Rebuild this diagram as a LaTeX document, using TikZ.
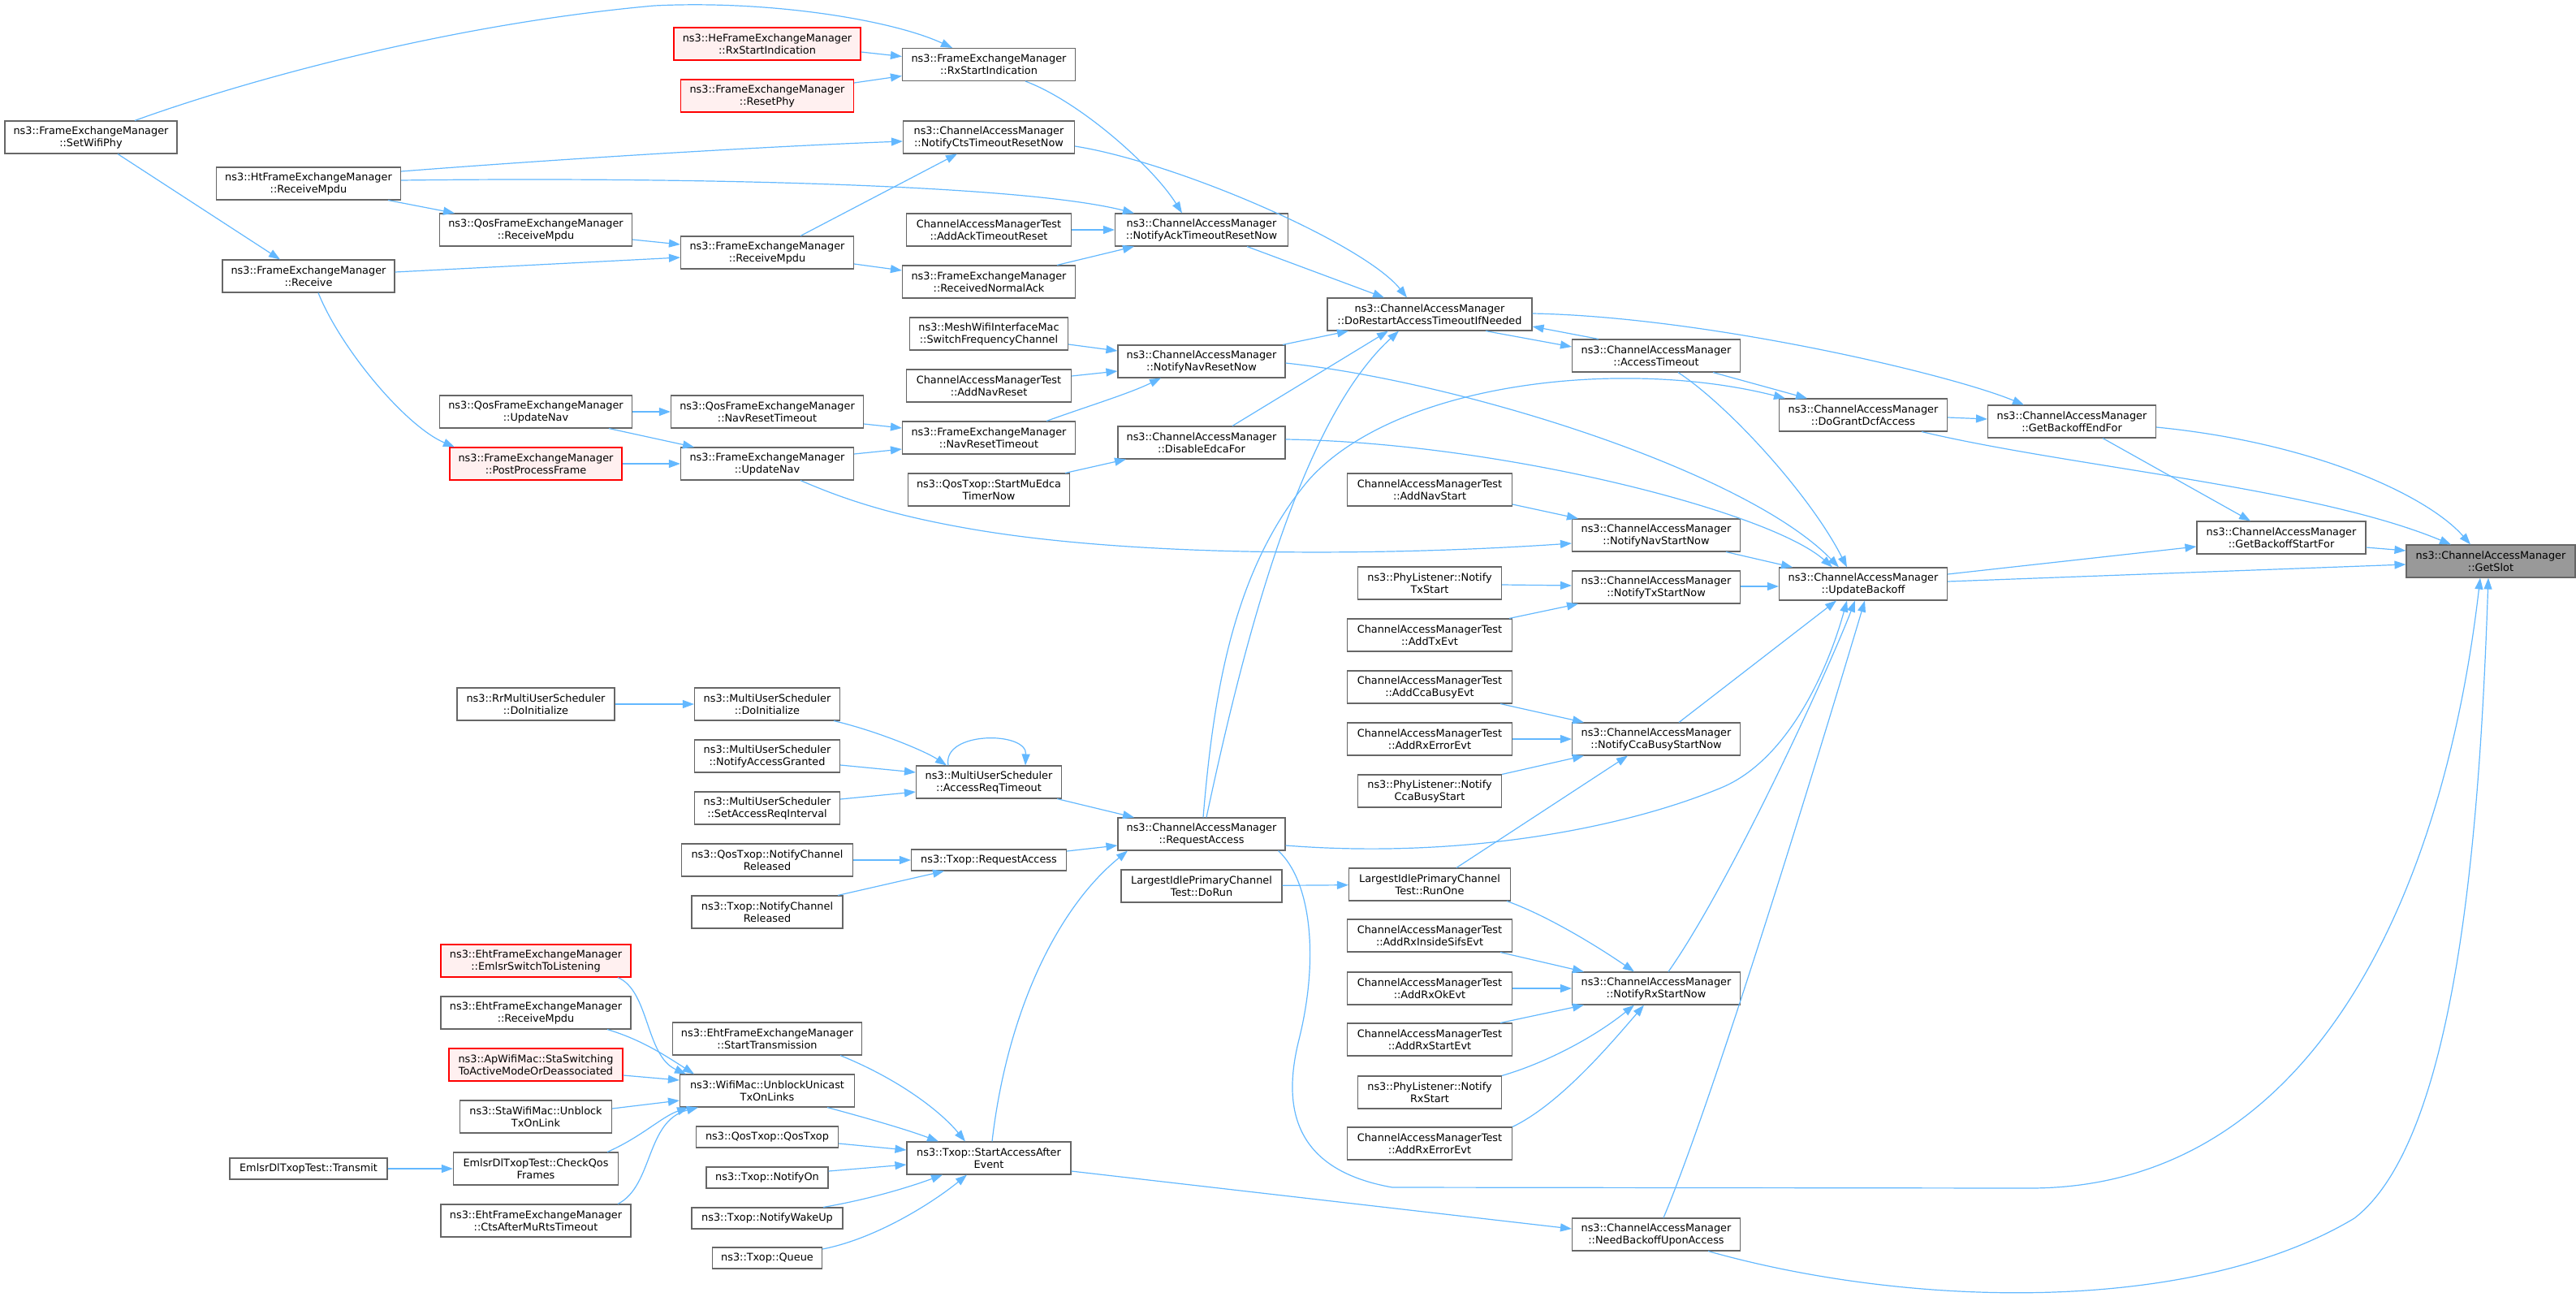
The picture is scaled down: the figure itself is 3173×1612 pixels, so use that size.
\documentclass[tikz,border=0pt]{standalone}
\usepackage{fontspec}
\setmainfont{DejaVu Sans}
\usetikzlibrary{arrows.meta,calc}
\definecolor{edgec}{HTML}{63B8FF}
\definecolor{nodeb}{HTML}{666666}
\definecolor{redb}{HTML}{FF0000}
\definecolor{redf}{HTML}{FFF0F0}
\definecolor{rootf}{HTML}{999999}
\tikzset{
  nbox/.style={draw=nodeb, fill=white, line width=1.1pt, rectangle, align=center,
    minimum height=40, inner xsep=4, inner ysep=2, font=\fontsize{12.85}{15}\selectfont},
  sbox/.style={nbox, minimum height=26},
  rbox/.style={nbox, draw=redb, fill=redf},
  cedge/.style={draw=edgec, line width=1.2pt, -{Triangle[length=14pt,width=10pt]}}
}
\begin{document}
\begin{tikzpicture}[x=1pt,y=-1pt]
\useasboundingbox (0,0) rectangle (3173,1612);
% column 12
\node[nbox,fill=rootf,minimum width=208] (root) at (3068,691) {ns3::ChannelAccessManager\\::GetSlot};
% column 11
\node[nbox,minimum width=208] (gbsf) at (2810,662) {ns3::ChannelAccessManager\\::GetBackoffStartFor};
% column 10
\node[nbox,minimum width=207] (gbef) at (2552,519) {ns3::ChannelAccessManager\\::GetBackoffEndFor};
% column 9
\node[nbox,minimum width=207] (ub) at (2295,719) {ns3::ChannelAccessManager\\::UpdateBackoff};
\node[nbox,minimum width=207] (dgda) at (2295,511) {ns3::ChannelAccessManager\\::DoGrantDcfAccess};
% column 8
\node[nbox,minimum width=207] (at) at (2040,438) {ns3::ChannelAccessManager\\::AccessTimeout};
\node[nbox,minimum width=207] (nnsn) at (2040,659) {ns3::ChannelAccessManager\\::NotifyNavStartNow};
\node[nbox,minimum width=207] (ntsn) at (2040,723) {ns3::ChannelAccessManager\\::NotifyTxStartNow};
\node[nbox,minimum width=207] (ncbs) at (2040,910) {ns3::ChannelAccessManager\\::NotifyCcaBusyStartNow};
\node[nbox,minimum width=207] (nrsn) at (2040,1217) {ns3::ChannelAccessManager\\::NotifyRxStartNow};
\node[nbox,minimum width=207] (nbua) at (2040,1520) {ns3::ChannelAccessManager\\::NeedBackoffUponAccess};
% column 7
\node[nbox,minimum width=252] (drat) at (1761,387) {ns3::ChannelAccessManager\\::DoRestartAccessTimeoutIfNeeded};
\node[nbox,minimum width=203] (addnavstart) at (1761,603) {ChannelAccessManagerTest\\::AddNavStart};
\node[nbox,minimum width=177] (pltx) at (1761,718) {ns3::PhyListener::Notify\\TxStart};
\node[nbox,minimum width=203] (addtxevt) at (1761,782) {ChannelAccessManagerTest\\::AddTxEvt};
\node[nbox,minimum width=203] (addcca) at (1761,846) {ChannelAccessManagerTest\\::AddCcaBusyEvt};
\node[nbox,minimum width=203] (addrxerr1) at (1761,910) {ChannelAccessManagerTest\\::AddRxErrorEvt};
\node[nbox,minimum width=177] (plcca) at (1761,974) {ns3::PhyListener::Notify\\CcaBusyStart};
\node[nbox,minimum width=199] (runone) at (1761,1089) {LargestIdlePrimaryChannel\\Test::RunOne};
\node[nbox,minimum width=203] (addrxsifs) at (1761,1152) {ChannelAccessManagerTest\\::AddRxInsideSifsEvt};
\node[nbox,minimum width=203] (addrxok) at (1761,1217) {ChannelAccessManagerTest\\::AddRxOkEvt};
\node[nbox,minimum width=203] (addrxstart) at (1761,1280) {ChannelAccessManagerTest\\::AddRxStartEvt};
\node[nbox,minimum width=177] (plrx) at (1761,1345) {ns3::PhyListener::Notify\\RxStart};
\node[nbox,minimum width=203] (addrxerr2) at (1761,1408) {ChannelAccessManagerTest\\::AddRxErrorEvt};
% column 6
\node[nbox,minimum width=213] (ntack) at (1480,283) {ns3::ChannelAccessManager\\::NotifyAckTimeoutResetNow};
\node[nbox,minimum width=206] (nnrn) at (1480,445) {ns3::ChannelAccessManager\\::NotifyNavResetNow};
\node[nbox,minimum width=206] (def) at (1480,545) {ns3::ChannelAccessManager\\::DisableEdcaFor};
\node[nbox,minimum width=206] (ra) at (1480,1027) {ns3::ChannelAccessManager\\::RequestAccess};
\node[nbox,minimum width=198] (dorun) at (1480,1091) {LargestIdlePrimaryChannel\\Test::DoRun};
% column 5
\node[nbox,minimum width=213] (rxsi) at (1218,79.5) {ns3::FrameExchangeManager\\::RxStartIndication};
\node[nbox,minimum width=211] (ncts) at (1218,169) {ns3::ChannelAccessManager\\::NotifyCtsTimeoutResetNow};
\node[nbox,minimum width=203] (addack) at (1218,283) {ChannelAccessManagerTest\\::AddAckTimeoutReset};
\node[nbox,minimum width=213] (rna) at (1218,347) {ns3::FrameExchangeManager\\::ReceivedNormalAck};
\node[nbox,minimum width=195] (sfc) at (1218,411) {ns3::MeshWifiInterfaceMac\\::SwitchFrequencyChannel};
\node[nbox,minimum width=203] (addnavreset) at (1218,475) {ChannelAccessManagerTest\\::AddNavReset};
\node[nbox,minimum width=213] (fnrt) at (1218,539) {ns3::FrameExchangeManager\\::NavResetTimeout};
\node[nbox,minimum width=199] (muedca) at (1218,603) {ns3::QosTxop::StartMuEdca\\TimerNow};
\node[nbox,minimum width=179] (art) at (1218,963) {ns3::MultiUserScheduler\\::AccessReqTimeout};
\node[sbox,minimum width=191] (txra) at (1218,1059) {ns3::Txop::RequestAccess};
\node[nbox,minimum width=202] (saae) at (1218,1426) {ns3::Txop::StartAccessAfter\\Event};
% column 4
\node[rbox,minimum width=230] (herx) at (945,54) {ns3::HeFrameExchangeManager\\::RxStartIndication};
\node[rbox,minimum width=213] (resetphy) at (945,118) {ns3::FrameExchangeManager\\::ResetPhy};
\node[nbox,minimum width=213] (frm) at (945,311) {ns3::FrameExchangeManager\\::ReceiveMpdu};
\node[nbox,minimum width=237] (qnrt) at (945,507) {ns3::QosFrameExchangeManager\\::NavResetTimeout};
\node[nbox,minimum width=213] (fun) at (945,571) {ns3::FrameExchangeManager\\::UpdateNav};
\node[nbox,minimum width=179] (musdi) at (945,867) {ns3::MultiUserScheduler\\::DoInitialize};
\node[nbox,minimum width=179] (musnag) at (945,931) {ns3::MultiUserScheduler\\::NotifyAccessGranted};
\node[nbox,minimum width=179] (mussari) at (945,995) {ns3::MultiUserScheduler\\::SetAccessReqInterval};
\node[nbox,minimum width=211] (qtncr) at (945,1059) {ns3::QosTxop::NotifyChannel\\Released};
\node[nbox,minimum width=186] (tncr) at (945,1123) {ns3::Txop::NotifyChannel\\Released};
\node[nbox,minimum width=233] (ehtst) at (945,1279) {ns3::EhtFrameExchangeManager\\::StartTransmission};
\node[nbox,minimum width=215] (wmu) at (945,1343) {ns3::WifiMac::UnblockUnicast\\TxOnLinks};
\node[sbox,minimum width=175] (qtqt) at (945,1400) {ns3::QosTxop::QosTxop};
\node[sbox,minimum width=150] (tno) at (945,1450) {ns3::Txop::NotifyOn};
\node[sbox,minimum width=186] (tnw) at (945,1500) {ns3::Txop::NotifyWakeUp};
\node[sbox,minimum width=135] (tq) at (945,1549) {ns3::Txop::Queue};
% column 3
\node[nbox,minimum width=237] (qrm) at (660,283) {ns3::QosFrameExchangeManager\\::ReceiveMpdu};
\node[nbox,minimum width=237] (qun) at (660,507) {ns3::QosFrameExchangeManager\\::UpdateNav};
\node[rbox,minimum width=212] (ppf) at (660,571) {ns3::FrameExchangeManager\\::PostProcessFrame};
\node[nbox,minimum width=194] (rrdi) at (660,867) {ns3::RrMultiUserScheduler\\::DoInitialize};
\node[rbox,minimum width=234] (emlsr) at (660,1183) {ns3::EhtFrameExchangeManager\\::EmlsrSwitchToListening};
\node[nbox,minimum width=234] (ehtrm) at (660,1247) {ns3::EhtFrameExchangeManager\\::ReceiveMpdu};
\node[rbox,minimum width=214] (apsw) at (660,1311) {ns3::ApWifiMac::StaSwitching\\ToActiveModeOrDeassociated};
\node[nbox,minimum width=187] (staub) at (660,1375) {ns3::StaWifiMac::Unblock\\TxOnLink};
\node[nbox,minimum width=203] (chkq) at (660,1439) {EmlsrDlTxopTest::CheckQos\\Frames};
\node[nbox,minimum width=234] (ctsmu) at (660,1503) {ns3::EhtFrameExchangeManager\\::CtsAfterMuRtsTimeout};
% column 2
\node[nbox,minimum width=227] (htrm) at (380,226) {ns3::HtFrameExchangeManager\\::ReceiveMpdu};
\node[nbox,minimum width=212] (recv) at (380,340) {ns3::FrameExchangeManager\\::Receive};
\node[sbox,minimum width=194] (transmit) at (380,1439) {EmlsrDlTxopTest::Transmit};
% column 1
\node[nbox,minimum width=212] (swp) at (112,169) {ns3::FrameExchangeManager\\::SetWifiPhy};

% ---------- edges ----------
\draw[cedge] ($(swp.north)+(54,0)$) .. controls (300,100) and (550,30) .. (806,7) .. controls (950,0) and (1100,25) .. ($(rxsi.north)+(-45,0)$);
\draw[cedge] ($(swp.south)+(33,0)$) -- ($(recv.north)+(-35,0)$);
\draw[cedge] ($(herx.east)+(0,10)$) -- ($(rxsi.west)+(0,-10)$);
\draw[cedge] ($(resetphy.east)+(0,-16)$) -- ($(rxsi.west)+(0,14)$);
\draw[cedge] ($(rxsi.south)+(45,0)$) .. controls (1330,125) and (1420,205) .. ($(ntack.north)+(-24,0)$);
\draw[cedge] ($(htrm.east)+(0,-15)$) .. controls (700,195) and (950,180) .. ($(ncts.west)+(0,5)$);
\draw[cedge] ($(htrm.east)+(0,-4)$) .. controls (800,218) and (1250,225) .. ($(ntack.north)+(-83,0)$);
\draw[cedge] ($(htrm.south)+(98,0)$) -- ($(qrm.north)+(-100,0)$);
\draw[cedge] ($(qrm.east)+(0,12)$) -- ($(frm.west)+(0,-10)$);
\draw[cedge] ($(recv.east)+(0,-5)$) -- ($(frm.west)+(0,6)$);
\draw[cedge] ($(recv.south)+(12,0)$) .. controls (420,430) and (500,525) .. ($(ppf.north)+(-100,0)$);
\draw[cedge] ($(frm.north)+(41,0)$) -- ($(ncts.south)+(-39,0)$);
\draw[cedge] ($(frm.east)+(0,14)$) -- ($(rna.west)+(0,-14)$);
\draw[cedge] (addack) -- (ntack);
\draw[cedge] ($(rna.north)+(84,0)$) -- ($(ntack.south)+(-83,0)$);
\draw[cedge] ($(ncts.east)+(0,11)$) .. controls (1450,200) and (1680,300) .. ($(drat.north)+(-28,0)$);
\draw[cedge] ($(ntack.south)+(56,0)$) -- ($(drat.north)+(-56,0)$);
\draw[cedge] ($(sfc.east)+(0,13)$) -- ($(nnrn.west)+(0,-13)$);
\draw[cedge] ($(addnavreset.east)+(0,-12)$) -- ($(nnrn.west)+(0,12)$);
\draw[cedge] ($(fnrt.north)+(71,0)$) .. controls (1340,500) and (1390,485) .. ($(nnrn.south)+(-50,0)$);
\draw[cedge] ($(qnrt.east)+(0,15)$) -- ($(fnrt.west)+(0,-12)$);
\draw[cedge] ($(fun.east)+(0,-12)$) -- ($(fnrt.west)+(0,14)$);
\draw[cedge] (qun) -- (qnrt);
\draw[cedge] ($(qun.south)+(90,0)$) -- ($(fun.north)+(-90,0)$);
\draw[cedge] (ppf) -- (fun);
\draw[cedge] ($(fun.south)+(41,0)$) .. controls (1040,615) and (1100,635) .. (1200,652) .. controls (1400,686) and (1700,685) .. ($(nnsn.west)+(0,10)$);
\draw[cedge] ($(muedca.north)+(94,0)$) -- ($(def.south)+(-93,0)$);
\draw[cedge] ($(nnrn.north)+(100,0)$) -- ($(drat.south)+(-100,0)$);
\draw[cedge] ($(nnrn.east)+(0,2)$) .. controls (1800,470) and (2150,580) .. ($(ub.north)+(-30,0)$);
\draw[cedge] ($(def.north)+(38,0)$) -- ($(drat.south)+(-51,0)$);
\draw[cedge] ($(def.east)+(0,-4)$) .. controls (1850,545) and (2180,630) .. ($(ub.north)+(-38,0)$);
\draw[cedge] ($(at.north)+(-71,0)$) -- ($(drat.east)+(0,15)$);
\draw[cedge] ($(drat.south)+(69,0)$) -- ($(at.west)+(0,-11)$);
\draw[cedge] ($(drat.east)+(0,-1)$) .. controls (2100,390) and (2400,460) .. ($(gbef.north)+(-59,0)$);
\draw[cedge] ($(at.south)+(70,0)$) -- ($(dgda.north)+(-69,0)$);
\draw[cedge] ($(at.south)+(27,0)$) .. controls (2130,500) and (2230,610) .. ($(ub.north)+(-20,0)$);
\draw[cedge] ($(dgda.east)+(0,3)$) -- ($(gbef.west)+(0,-3)$);
\draw[cedge] ($(dgda.south)+(72,0)$) .. controls (2550,575) and (2850,600) .. ($(root.north)+(-49,0)$);
\draw[cedge] ($(gbef.east)+(0,7)$) .. controls (2850,545) and (2990,610) .. ($(root.north)+(-25,0)$);
\draw[cedge] ($(gbef.south)+(38,0)$) -- ($(gbsf.north)+(-38,0)$);
\draw[cedge] ($(gbsf.east)+(0,12)$) -- ($(root.west)+(0,-13)$);
\draw[cedge] ($(ub.east)+(0,-12)$) -- ($(gbsf.west)+(0,11)$);
\draw[cedge] ($(ub.east)+(0,-3)$) -- ($(root.west)+(0,4)$);
\draw[cedge] ($(addnavstart.east)+(0,18)$) -- ($(nnsn.north west)+(8,0)$);
\draw[cedge] ($(nnsn.south)+(86,0)$) -- ($(ub.north)+(-87,0)$);
\draw[cedge] ($(pltx.east)+(0,2)$) -- ($(ntsn.west)+(0,-2)$);
\draw[cedge] ($(addtxevt.north)+(98,0)$) -- ($(ntsn.south)+(-96,0)$);
\draw[cedge] ($(ntsn.east)+(0,-1)$) -- ($(ub.west)+(0,3)$);
\draw[cedge] ($(addcca.south)+(87,0)$) -- ($(ncbs.north)+(-89,0)$);
\draw[cedge] (addrxerr1) -- (ncbs);
\draw[cedge] ($(plcca.north)+(89,0)$) -- ($(ncbs.south)+(-89,0)$);
\draw[cedge] ($(runone.north)+(33,0)$) -- ($(ncbs.south)+(-35,0)$);
\draw[cedge] ($(ncbs.north)+(28,0)$) -- ($(ub.south)+(-33,0)$);
\draw[cedge] ($(runone.south)+(95,0)$) .. controls (1900,1125) and (1960,1160) .. ($(nrsn.north)+(-27,0)$);
\draw[cedge] ($(addrxsifs.south)+(87,0)$) -- ($(nrsn.north)+(-89,0)$);
\draw[cedge] (addrxok) -- (nrsn);
\draw[cedge] ($(addrxstart.north)+(87,0)$) -- ($(nrsn.south)+(-89,0)$);
\draw[cedge] ($(plrx.north)+(89,0)$) .. controls (1900,1310) and (1960,1280) .. ($(nrsn.south)+(-27,0)$);
\draw[cedge] (addrxerr2.north east) .. controls (1920,1360) and (1980,1290) .. ($(nrsn.south)+(-15,0)$);
\draw[cedge] ($(nrsn.north)+(15,0)$) .. controls (2130,1090) and (2250,830) .. ($(ub.south)+(-10,0)$);
\draw[cedge] ($(nbua.north)+(9,0)$) .. controls (2120,1330) and (2270,830) .. ($(ub.south)+(2,0)$);
\draw[cedge] ($(ra.east)+(0,14)$) .. controls (1800,1058) and (2000,1020) .. (2120,970) .. controls (2200,937) and (2250,830) .. ($(ub.south)+(-20,0)$);
\draw[cedge] ($(ra.north)+(2,0)$) .. controls (1495,850) and (1520,700) .. (1612,591) .. controls (1720,470) and (2000,440) .. ($(dgda.north west)+(8,0)$);
\draw[cedge] ($(ra.north)+(6,0)$) .. controls (1530,800) and (1600,520) .. ($(drat.south)+(-38,0)$);
\draw[cedge] ($(ra.south east)+(-9,0)$) .. controls (1615,1085) and (1625,1180) .. (1600,1280) .. controls (1580,1360) and (1590,1440) .. (1715,1462) -- (2500,1463) .. controls (2850,1463) and (3010,1100) .. ($(root.south)+(-13,0)$);
\draw[cedge] ($(nbua.south east)+(-40,0)$) .. controls (2350,1610) and (2700,1620) .. (2900,1500) .. controls (3030,1400) and (3055,1000) .. ($(root.south)+(-3,0)$);
\draw[cedge] ($(saae.east)+(0,16)$) -- ($(nbua.west)+(0,-7)$);
\draw[cedge] ($(saae.north)+(4,0)$) .. controls (1240,1250) and (1300,1120) .. ($(ra.south)+(-91,0)$);
\draw[cedge] ($(art.south)+(84,0)$) -- ($(ra.north)+(-83,0)$);
\draw[cedge] ($(txra.east)+(0,-11)$) -- ($(ra.west)+(0,14)$);
\draw[cedge] ($(musdi.south)+(82,0)$) .. controls (1080,900) and (1140,925) .. ($(art.north)+(-52,0)$);
\draw[cedge] ($(musnag.east)+(0,11)$) -- ($(art.west)+(0,-12)$);
\draw[cedge] ($(mussari.east)+(0,-11)$) -- ($(art.west)+(0,12)$);
\draw[cedge] ($(art.north)+(-50,0)$) .. controls (1160,900) and (1265,900) .. ($(art.north)+(45,0)$);
\draw[cedge] (rrdi) -- (musdi);
\draw[cedge] (qtncr) -- (txra);
\draw[cedge] ($(tncr.north)+(87,0)$) -- ($(txra.south)+(-55,0)$);
\draw[cedge] ($(ehtst.south)+(90,0)$) .. controls (1110,1330) and (1160,1370) .. ($(saae.north)+(-29,0)$);
\draw[cedge] ($(wmu.south)+(74,0)$) .. controls (1080,1380) and (1120,1392) .. ($(saae.north)+(-62,0)$);
\draw[cedge] ($(qtqt.east)+(0,8)$) -- ($(saae.west)+(0,-10)$);
\draw[cedge] ($(tno.east)+(0,-8)$) -- ($(saae.west)+(0,8)$);
\draw[cedge] ($(tnw.north)+(69,0)$) .. controls (1080,1475) and (1130,1458) .. ($(saae.south)+(-57,0)$);
\draw[cedge] ($(tq.east)+(0,-11)$) .. controls (1080,1525) and (1150,1480) .. ($(saae.south)+(-27,0)$);
\draw[cedge] ($(emlsr.south)+(101,0)$) .. controls (800,1220) and (795,1300) .. ($(wmu.north)+(-100,0)$);
\draw[cedge] ($(ehtrm.south)+(88,0)$) .. controls (790,1280) and (820,1300) .. ($(wmu.north)+(-90,0)$);
\draw[cedge] ($(apsw.east)+(0,13)$) -- ($(wmu.west)+(0,-13)$);
\draw[cedge] ($(staub.east)+(0,-10)$) -- ($(wmu.west)+(0,12)$);
\draw[cedge] ($(chkq.north)+(88,0)$) .. controls (790,1400) and (815,1375) .. ($(wmu.south)+(-97,0)$);
\draw[cedge] ($(ctsmu.north)+(101,0)$) .. controls (805,1460) and (795,1380) .. ($(wmu.south)+(-85,0)$);
\draw[cedge] (transmit) -- (chkq);
\draw[cedge] (dorun) -- (runone);
\end{tikzpicture}
\end{document}
